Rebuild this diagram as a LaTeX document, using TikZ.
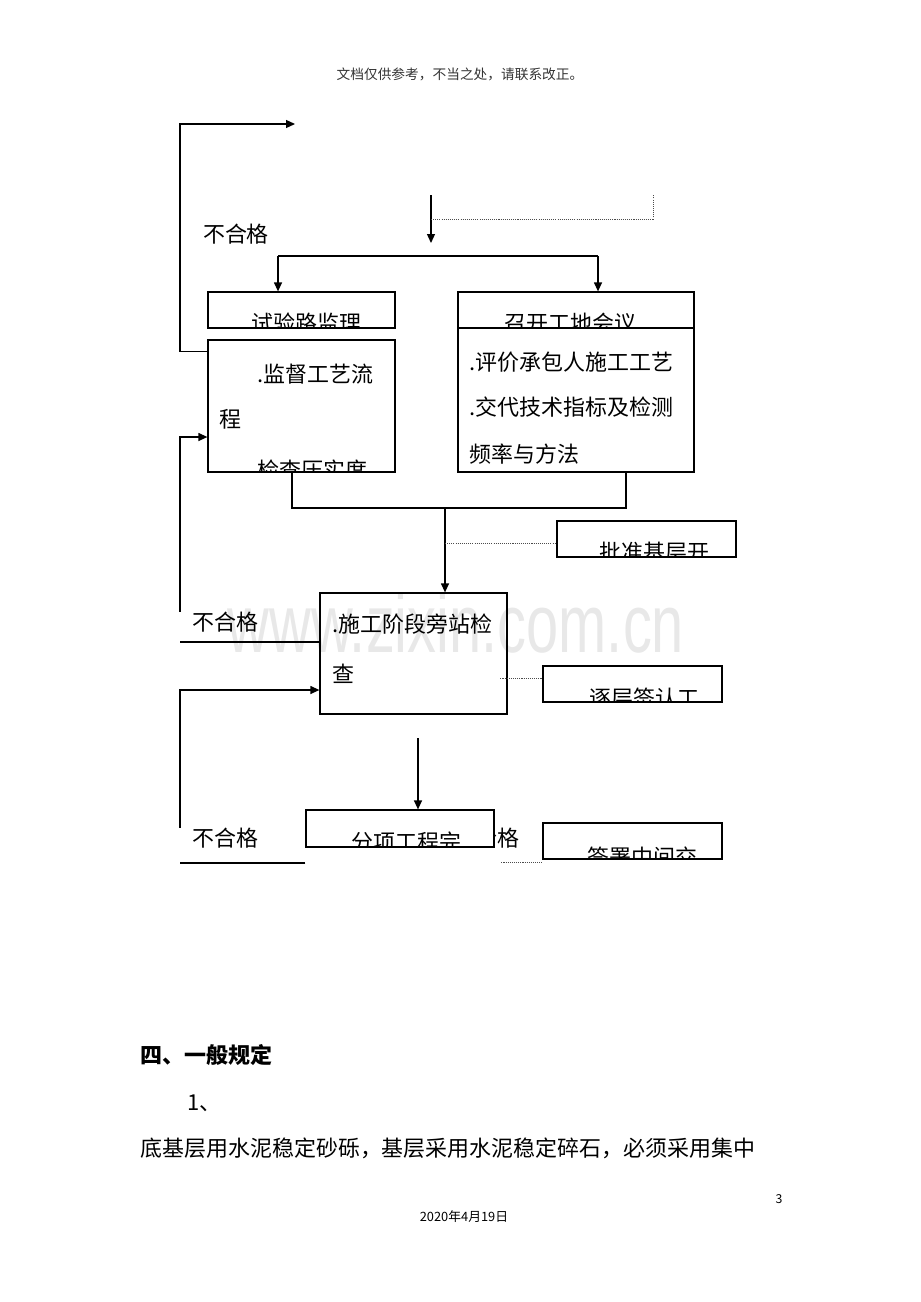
\documentclass[tikz,border=0pt]{standalone}
\usepackage{fontspec}
\setmainfont{Noto Sans CJK SC}
\newfontfamily\markfont{Liberation Sans}
\usepackage{tikz}
\usetikzlibrary{arrows.meta}
\tikzset{>={Triangle[length=1.8mm,width=1.6mm]}}
\tikzset{
  stepbox/.style={draw, line width=0.7pt, inner sep=0pt},
  flow/.style={->, line width=0.7pt},
  link/.style={line width=0.7pt},
  dotlink/.style={line width=0.5pt, black!70, dash pattern=on 0.6pt off 0.6pt},
  boxtext/.style={font=\fontsize{12.5}{15}\selectfont, inner sep=0pt, anchor=west},
  verdict/.style={font=\fontsize{12.5}{15}\selectfont, inner sep=0pt},
}
% text line inside a box: box name, x and y offset from its top left corner (px), text
\newcommand\inbox[4]{\node[boxtext] at ([xshift=#2*0.2mm, yshift=-#3*0.2mm]#1.north west) {#4};}
% same, but cut off by the box outline
\newcommand\cutbox[2]{\begin{scope}\clip (#1.south west) rectangle (#1.north east); #2\end{scope}}

\begin{document}
\begin{tikzpicture}[x=0.2mm, y=-0.2mm]
        \useasboundingbox (0,0) rectangle (920,1302);

        % watermark
        \node[anchor=base, inner sep=0pt, xscale=0.7, text=black!9, font=\markfont\fontsize{47}{50}\selectfont] (mark) at (456,652) {www.zixin.com.cn};

        % page header
        \node[inner sep=0pt, text=black!80, font=\fontsize{7.8}{9}\selectfont] (header) at (460,74) {文档仅供参考，不当之处，请联系改正。};

        % labels
        \node[verdict] (fail1) at (236,234) {不合格};
        \node[verdict] (fail2) at (225.5,622) {不合格};
        \node[verdict] (fail3) at (225.5,838) {不合格};
        \node[verdict] (pass3) at (497,838) {合格};

        % boxes
        \node[stepbox, minimum width=37.4mm, minimum height=7.2mm] (trial) at (301.5,310) {};
        \node[stepbox, minimum width=37.4mm, minimum height=26.4mm] (watch) at (301.5,406) {};
        \node[stepbox, minimum width=47.2mm, minimum height=7.2mm] (meet) at (576,310) {};
        \node[stepbox, minimum width=47.2mm, minimum height=28.8mm] (assess) at (576,400) {};
        \node[stepbox, minimum width=35.8mm, minimum height=7.2mm] (permit) at (646.5,539) {};
        \node[stepbox, minimum width=37.4mm, minimum height=24.2mm] (site) at (413.5,653.5) {};
        \node[stepbox, minimum width=35.8mm, minimum height=7.2mm] (layer) at (632.5,684) {};
        \node[stepbox, fill=white, minimum width=37.6mm, minimum height=7.4mm] (item) at (400,828.5) {};
        \node[stepbox, minimum width=35.8mm, minimum height=7.2mm] (sign) at (632.5,841) {};

        % box texts
        \cutbox{trial}{\inbox{trial}{44}{32}{试验路监理}}
        \cutbox{watch}{\inbox{watch}{50}{35}{.监督工艺流}\inbox{watch}{12}{80}{程}\inbox{watch}{50}{131}{检查压实度}}
        \cutbox{meet}{\inbox{meet}{47}{32}{召开工地会议}}
        \inbox{assess}{12}{35}{.评价承包人施工工艺}
        \inbox{assess}{12}{80}{.交代技术指标及检测}
        \inbox{assess}{12}{127}{频率与方法}
        \cutbox{permit}{\inbox{permit}{43}{32}{批准基层开}}
        \inbox{site}{13}{32}{.施工阶段旁站检}
        \inbox{site}{13}{81}{查}
        \cutbox{layer}{\inbox{layer}{47}{33}{逐层签认工}}
        \cutbox{item}{\inbox{item}{46}{33}{分项工程完}}
        \cutbox{sign}{\inbox{sign}{45}{35}{签署中间交}}

        % first loop back
        \coordinate (loopA) at (180,124);
        \coordinate (loopAend) at (295,124);
        \draw[flow] ([yshift=-2.4mm]watch.north west) -| (loopA) -- (loopAend);

        % entry and note
        \coordinate (entry) at (431,195);
        \coordinate (entryend) at (431,243);
        \draw[flow] (entry) -- (entryend);
        \coordinate (note) at (653,195);
        \coordinate (notebend) at (653,219);
        \draw[dotlink] (entry |- notebend) -- (notebend) -- (note);

        % split
        \coordinate (splitL) at (278,256);
        \coordinate (splitR) at (598,256);
        \draw[link] (splitL) -- (splitR);
        \draw[flow] (splitL) -- (splitL |- trial.north);
        \draw[flow] (splitR) -- (splitR |- meet.north);

        % merge
        \coordinate (mergeL) at (292,508);
        \coordinate (mergeR) at (626,508);
        \coordinate (mergeC) at (445,508);
        \draw[link] (mergeL |- watch.south) -- (mergeL) -- (mergeR) -- (mergeR |- assess.south);
        \draw[flow] (mergeC) -- (mergeC |- site.north);
        \coordinate (permitin) at ([yshift=-0.8mm]permit.west);
        \draw[dotlink] (mergeC |- permitin) -- (permitin);

        \coordinate (layerin) at ([yshift=1.2mm]layer.west);
        \draw[dotlink] ([xshift=-8.4mm]layerin) -- (layerin);

        % second loop back
        \coordinate (loopB) at (180,642);
        \coordinate (loopBtop) at (180,437);
        \draw[link] (site.west |- loopB) -- (loopB);
        \draw[flow] (loopB |- fail2.north) -- (loopBtop) -- (loopBtop -| watch.west);

        % into item
        \coordinate (itemtop) at (418,738);
        \draw[flow] (itemtop) -- (itemtop |- item.north);

        % third loop back
        \coordinate (loopC) at (180,863);
        \coordinate (loopCtop) at (180,690);
        \draw[link] (item.west |- loopC) -- (loopC);
        \draw[flow] (loopC |- fail3.north) -- (loopCtop) -- (loopCtop -| site.west);

        \coordinate (signin) at ([yshift=-0.6mm]sign.south west);
        \draw[dotlink] ([xshift=-8.2mm]signin) -- (signin);

        % text below
        \node[anchor=west, inner sep=0pt, font=\fontsize{12.5}{15}\selectfont\bfseries] (heading) at (140,1055) {四、一般规定};
        \node[anchor=west, inner sep=0pt, font=\fontsize{12.5}{15}\selectfont] (itemno) at (187,1103) {1、};
        \node[anchor=west, inner sep=0pt, font=\fontsize{12.5}{15}\selectfont] (body) at (140,1148) {底基层用水泥稳定砂砾，基层采用水泥稳定碎石，必须采用集中};
        \node[inner sep=0pt, font=\fontsize{7}{8}\selectfont] (pageno) at (779,1199) {3};
        \node[inner sep=0pt, font=\fontsize{7.3}{9}\selectfont] (date) at (464,1217) {2020年4月19日};
      \end{tikzpicture}
\end{document}
